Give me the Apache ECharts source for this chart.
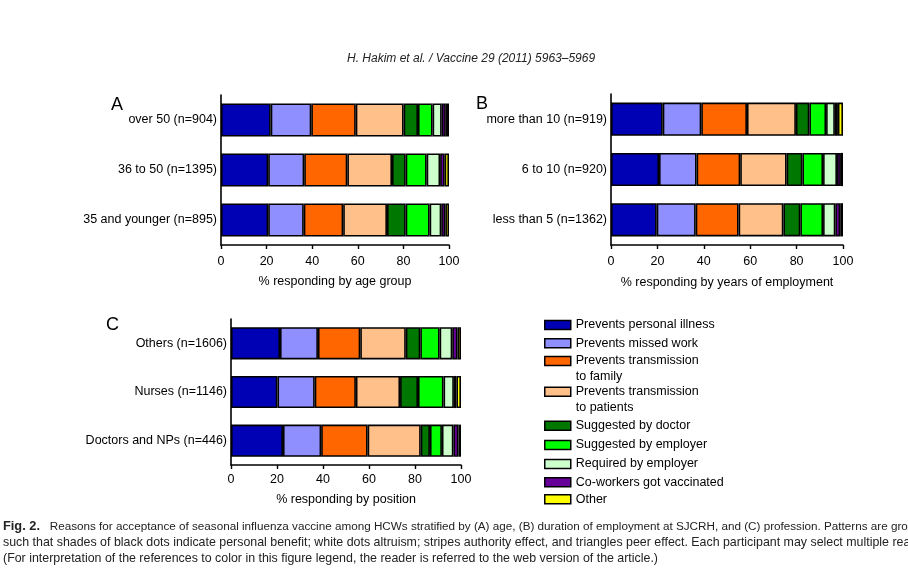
<!DOCTYPE html>
<html>
<head>
<meta charset="utf-8">
<script src="https://cdn.jsdelivr.net/npm/echarts@6/dist/echarts.min.js"></script>
<style>
html,body{margin:0;padding:0;background:#fff;}
#chart{width:908px;height:570px;}
</style>
</head>
<body>
<div id="chart"></div>
<script>
// Reasons (series)
const reasons = [
  'Prevents personal illness',
  'Prevents missed work',
  'Prevents transmission to family',
  'Prevents transmission to patients',
  'Suggested by doctor',
  'Suggested by employer',
  'Required by employer',
  'Co-workers got vaccinated',
  'Other'
];
const reasonColors = ['#0000b4', '#8f8fff', '#ff6600', '#ffc08a', '#007700', '#00ff00', '#ccffcc', '#660099', '#ffff00'];

// Panel A: age group (rows top to bottom), values per reason in %
const ageGroups = ['over 50 (n=904)', '36 to 50 (n=1395)', '35 and younger (n=895)'];
const ageOver50 = [21.8, 17.8, 19.5, 21.0, 6.3, 6.4, 4.0, 1.8, 1.4];
const age36to50 = [20.7, 15.8, 18.9, 19.6, 6.0, 9.2, 5.9, 2.0, 1.9];
const age35under = [20.7, 15.6, 17.3, 19.2, 8.2, 10.5, 5.1, 1.8, 1.6];

// Panel B: years of employment
const empGroups = ['more than 10 (n=919)', '6 to 10 (n=920)', 'less than 5 (n=1362)'];
const empOver10 = [22.3, 16.6, 19.7, 21.1, 5.8, 7.2, 3.8, 1.3, 2.2];
const emp6to10 = [20.7, 16.2, 18.8, 20.0, 6.8, 8.9, 6.0, 1.7, 0.9];
const empUnder5 = [19.7, 16.8, 18.5, 19.3, 7.3, 9.8, 5.3, 2.1, 1.2];

// Panel C: position
const posGroups = ['Others (n=1606)', 'Nurses (n=1146)', 'Doctors and NPs (n=446)'];
const posOthers = [21.3, 16.5, 18.4, 19.8, 6.3, 8.4, 5.5, 2.3, 1.5];
const posNurses = [20.2, 16.2, 17.9, 19.2, 7.8, 11.1, 4.5, 1.1, 2.0];
const posDoctors = [22.6, 16.6, 20.2, 23.1, 4.0, 5.2, 5.0, 2.2, 1.1];

const xTicks = [0, 20, 40, 60, 80, 100];
const axisTitles = ['% responding by age group', '% responding by years of employment', '% responding by position'];

const FONT = 'Liberation Sans, Arial, sans-serif';
const panels = [
  { cats: ageGroups, rows: [ageOver50, age36to50, age35under], grid: { left: 221, top: 95, width: 228, height: 150 }, lm: 10, ng: 30 },
  { cats: empGroups, rows: [empOver10, emp6to10, empUnder5], grid: { left: 611, top: 94, width: 232, height: 151 }, lm: 10, ng: 31 },
  { cats: posGroups, rows: [posOthers, posNurses, posDoctors], grid: { left: 231, top: 319, width: 230, height: 146 }, lm: 8, ng: 28 }
];

const grids = [], xAxes = [], yAxes = [], series = [];
panels.forEach((p, pi) => {
  grids.push(Object.assign({ containLabel: false }, p.grid));
  xAxes.push({
    gridIndex: pi, type: 'value', min: xTicks[0], max: xTicks[xTicks.length - 1], interval: 20,
    name: axisTitles[pi], nameLocation: 'middle', nameGap: p.ng,
    nameTextStyle: { fontFamily: FONT, fontSize: 12.5, color: '#000' },
    axisLine: { show: true, lineStyle: { color: '#000', width: 1.6 } },
    axisTick: { show: true, length: 4, lineStyle: { color: '#000', width: 1.4 } },
    axisLabel: { fontFamily: FONT, fontSize: 12.5, color: '#000', margin: p.lm },
    splitLine: { show: false }
  });
  yAxes.push({
    gridIndex: pi, type: 'category', inverse: true, data: p.cats,
    axisLine: { show: true, lineStyle: { color: '#000', width: 1.6 } },
    axisTick: { show: false },
    axisLabel: { fontFamily: FONT, fontSize: 12.5, color: '#000', margin: 4 }
  });
  reasons.forEach((r, ri) => {
    series.push({
      name: r, type: 'bar', stack: 'p' + pi, xAxisIndex: pi, yAxisIndex: pi,
      barWidth: '66%',
      itemStyle: { color: reasonColors[ri], borderColor: '#000', borderWidth: 1.6 },
      emphasis: { disabled: true },
      data: p.rows.map(row => row[ri])
    });
  });
});

// Legends: one per item; two-line labels get an empty leading line so the
// first text line sits level with the swatch
const legendCenters = [325, 343.3, 361, 391.7, 425.7, 445, 464, 482.3, 499.3];
const legendLabels = {
  'Prevents transmission to family': '\nPrevents transmission\nto family',
  'Prevents transmission to patients': '\nPrevents transmission\nto patients'
};
const LH = 15.5;
const legends = reasons.map((r, ri) => {
  const twoLine = !!legendLabels[r];
  return {
    show: true, orient: 'vertical', left: 544,
    top: twoLine ? legendCenters[ri] - 1.5 * LH : legendCenters[ri] - LH / 2,
    padding: 0, itemWidth: 26, itemHeight: 9, icon: 'rect', selectedMode: false,
    data: [r],
    formatter: name => legendLabels[name] || name,
    itemStyle: { borderColor: '#000', borderWidth: 1.5 },
    textStyle: { fontFamily: FONT, fontSize: 12.5, color: '#000', lineHeight: LH }
  };
});

const captionFont = 'Liberation Sans Narrow, Arial Narrow, sans-serif';
const option = {
  animation: false,
  backgroundColor: '#fff',
  grid: grids, xAxis: xAxes, yAxis: yAxes, series: series,
  legend: legends,
  graphic: [
    { type: 'text', left: 347, top: 53, style: { text: 'H. Hakim et al. / Vaccine 29 (2011) 5963–5969', font: 'italic 12px ' + captionFont, fill: '#222' } },
    { type: 'text', left: 111, top: 96, style: { text: 'A', font: '18px ' + FONT, fill: '#000' } },
    { type: 'text', left: 476, top: 95, style: { text: 'B', font: '18px ' + FONT, fill: '#000' } },
    { type: 'text', left: 106, top: 316, style: { text: 'C', font: '18px ' + FONT, fill: '#000' } },
    { type: 'text', left: 3, top: 520, style: { text: '{b|Fig. 2.}   Reasons for acceptance of seasonal influenza vaccine among HCWs stratified by (A) age, (B) duration of employment at SJCRH, and (C) profession. Patterns are gro', font: '11.7px ' + captionFont, fill: '#222', rich: { b: { font: 'bold 12.8px ' + captionFont, fill: '#222' } } } },
    { type: 'text', left: 3, top: 537, style: { text: 'such that shades of black dots indicate personal benefit; white dots altruism; stripes authority effect, and triangles peer effect. Each participant may select multiple rea', font: '12.4px ' + captionFont, fill: '#222' } },
    { type: 'text', left: 3, top: 553, style: { text: '(For interpretation of the references to color in this figure legend, the reader is referred to the web version of the article.)', font: '12.4px ' + captionFont, fill: '#222' } }
  ]
};
const chart = echarts.init(document.getElementById('chart'), null, { renderer: 'canvas' });
chart.setOption(option);
</script>
</body>
</html>
